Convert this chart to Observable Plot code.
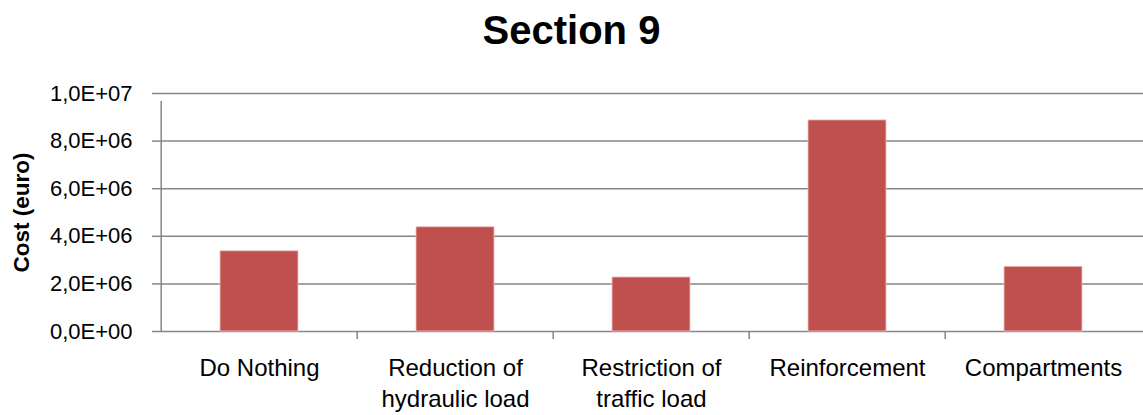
<!DOCTYPE html>
<html>
<head>
<meta charset="utf-8">
<script src="https://cdn.jsdelivr.net/npm/d3@7"></script>
<script src="https://cdn.jsdelivr.net/npm/@observablehq/plot@0.6"></script>
<style>
  html, body { margin: 0; padding: 0; background: #fff; }
  #title { height: 70px; width: 1143px; text-align: center; font-family: "Liberation Sans", Arial, sans-serif; font-weight: bold; font-size: 40px; line-height: 1; padding-top: 10px; box-sizing: border-box; color: #000; }
</style>
</head>
<body>
<div id="title">Section 9</div>
<div id="chart"></div>
<script>
const categories = ["Do Nothing", "Reduction of\nhydraulic load", "Restriction of\ntraffic load", "Reinforcement", "Compartments"];
const costs = [3.37e6, 4.38e6, 2.27e6, 8.87e6, 2.72e6];
const yTicks = [0, 2e6, 4e6, 6e6, 8e6, 1e7];
const yLabel = "Cost (euro)";

const data = categories.map((c, i) => ({category: c, cost: costs[i]}));

const fmt = (d) => {
  if (d === 0) return "0,0E+00";
  const e = Math.floor(Math.log10(d));
  const m = d / Math.pow(10, e);
  return m.toFixed(1).replace(".", ",") + "E+" + String(e).padStart(2, "0");
};

const W = 1143, H = 345, ML = 160, MR = 0, MT = 23, MB = 84;
const pInner = 0.6, pOuter = 0.3;
const step = (W - ML - MR) / (categories.length - pInner + 2 * pOuter);
const grey = "#868686";
const font = "Liberation Sans, Arial, sans-serif";

const plot = Plot.plot({
  width: W,
  height: H,
  marginLeft: ML,
  marginRight: MR,
  marginTop: MT,
  marginBottom: MB,
  style: {fontFamily: font, fontSize: "22px", color: "#000", background: "#fff"},
  x: {domain: categories, paddingInner: pInner, paddingOuter: pOuter},
  y: {domain: [0, 1e7]},
  marks: [
    Plot.gridY(yTicks, {stroke: grey, strokeOpacity: 1, strokeWidth: 1.5}),
    Plot.barY(data, {x: "category", y: "cost", fill: "#C0504D", stroke: "#EBC3C2", strokeWidth: 0.8}),
    Plot.ruleX(categories, {x: d => d, dx: -step / 2, y1: 0, y2: (d, i) => i === 0 ? 1e7 : 0, insetBottom: -8, stroke: grey, strokeWidth: 1.5}),
    Plot.axisY({ticks: yTicks, tickFormat: fmt, tickSize: 8, tickPadding: 20, stroke: grey, strokeWidth: 1.5, label: null, fontSize: 22, fill: "#000"}),
    Plot.axisX({tickSize: 0, tickPadding: 23, label: null, fontSize: 24, lineHeight: 1.28, fill: "#000"}),
    Plot.text([yLabel], {frameAnchor: "left", dx: -139, rotate: -90, textAnchor: "middle", lineAnchor: "middle", fontWeight: "bold", fontSize: 22.5, fill: "#000", text: d => d})
  ]
});
document.getElementById("chart").appendChild(plot);
</script>
</body>
</html>
